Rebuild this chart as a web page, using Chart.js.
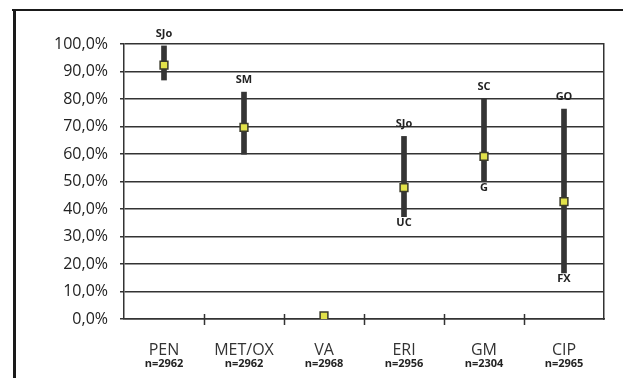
<!DOCTYPE html>
<html>
<head>
<meta charset="utf-8">
<style>
html,body{margin:0;padding:0;background:#fff;}
#wrap{width:623px;height:378px;position:relative;}
</style>
<script src="https://cdn.jsdelivr.net/npm/chart.js@4/dist/chart.umd.min.js"></script>
</head>
<body>
<div id="wrap"><canvas id="c" width="623" height="378"></canvas></div>
<script>
const categories = ["PEN", "MET/OX", "VA", "ERI", "GM", "CIP"];
const sampleSizes = ["n=2962", "n=2962", "n=2968", "n=2956", "n=2304", "n=2965"];
const meanValues = [92.3, 69.7, 1.1, 47.8, 59.1, 42.7];
const highValues = [99.3, 82.5, null, 66.4, 79.9, 76.3];
const lowValues = [86.9, 59.9, null, 37.2, 50.0, 16.8];
const highLabels = ["SJo", "SM", "", "SJo", "SC", "GO"];
const lowLabels = ["", "", "", "UC", "G", "FX"];
const yTicks = [0, 10, 20, 30, 40, 50, 60, 70, 80, 90, 100];

const ranges = highValues.map((h, i) => (h === null ? null : [lowValues[i], h]));

const decor = {
  id: 'decor',
  beforeDraw(chart) {
    const ctx = chart.ctx;
    ctx.save();
    ctx.fillStyle = '#fff';
    ctx.fillRect(0, 0, chart.width, chart.height);
    ctx.fillStyle = '#1a1a1a';
    ctx.fillRect(12, 9, 611, 2);
    ctx.fillRect(13, 9, 3, 369);
    ctx.restore();
  },
  afterDraw(chart) {
    const ctx = chart.ctx;
    const xs = chart.scales.x, ys = chart.scales.y;
    const area = chart.chartArea;
    ctx.save();
    ctx.strokeStyle = '#333';
    ctx.lineWidth = 1.5;
    const step = (xs.getPixelForValue(1) - xs.getPixelForValue(0));
    for (let i = 0; i < categories.length - 1; i++) {
      const x = Math.round(xs.getPixelForValue(i) + step / 2) + 0.5;
      ctx.beginPath();
      ctx.moveTo(x, area.bottom - 5);
      ctx.lineTo(x, area.bottom + 6);
      ctx.stroke();
    }
    ctx.textAlign = 'center';
    categories.forEach((c, i) => {
      const x = xs.getPixelForValue(i);
      ctx.fillStyle = '#333';
      ctx.font = '16px "Open Sans"';
      ctx.textBaseline = 'alphabetic';
      ctx.fillText(c, x, 355);
      ctx.fillStyle = '#222';
      ctx.font = 'bold 11px "Open Sans"';
      ctx.fillText(sampleSizes[i], x, 367);
    });
    ctx.fillStyle = '#222';
    ctx.font = 'bold 11px "Open Sans"';
    categories.forEach((c, i) => {
      const x = xs.getPixelForValue(i);
      if (highLabels[i] && highValues[i] !== null) {
        ctx.textBaseline = 'alphabetic';
        ctx.fillText(highLabels[i], x, ys.getPixelForValue(highValues[i]) - 9);
      }
      if (lowLabels[i] && lowValues[i] !== null) {
        ctx.textBaseline = 'top';
        ctx.fillText(lowLabels[i], x, ys.getPixelForValue(lowValues[i]) + 1);
      }
    });
    ctx.restore();
  }
};

new Chart(document.getElementById('c'), {
  type: 'bar',
  data: {
    labels: categories,
    datasets: [
      {
        type: 'line',
        data: meanValues,
        showLine: false,
        pointStyle: 'rect',
        pointRadius: 5.5,
        pointHoverRadius: 5.5,
        pointBackgroundColor: '#e2e24a',
        pointBorderColor: '#3a3a2a',
        pointBorderWidth: 1.5,
        order: 0
      },
      {
        data: ranges,
        backgroundColor: '#353535',
        borderWidth: 0,
        barThickness: 5,
        grouped: false,
        order: 1
      }
    ]
  },
  options: {
    responsive: false,
    animation: false,
    events: [],
    layout: { padding: { top: 44, right: 19, left: 0, bottom: 0 } },
    plugins: { legend: { display: false }, tooltip: { enabled: false } },
    scales: {
      x: {
        offset: true,
        grid: { display: false, drawTicks: false },
        border: { display: true, color: '#333', width: 1.5 },
        ticks: { display: false },
        afterFit(s) { s.height = 59; }
      },
      y: {
        min: 0,
        max: 100,
        afterBuildTicks(s) { s.ticks = yTicks.map(v => ({ value: v })); },
        grid: { color: '#333', lineWidth: 1.5, tickLength: 4, drawTicks: true, tickColor: '#333' },
        border: { display: true, color: '#333', width: 1.5 },
        ticks: {
          padding: 12,
          color: '#222',
          font: { family: '"Open Sans"', size: 16 },
          callback: v => v.toFixed(1).replace('.', ',') + '%'
        },
        afterFit(s) { s.width = 124; }
      },
      y2: {
        position: 'right',
        display: true,
        min: 0, max: 100,
        grid: { display: false, drawTicks: false },
        border: { display: true, color: '#333', width: 1.5 },
        ticks: { display: false },
        afterFit(s) { s.width = 0; }
      }
    }
  },
  plugins: [decor]
});
</script>
</body>
</html>
